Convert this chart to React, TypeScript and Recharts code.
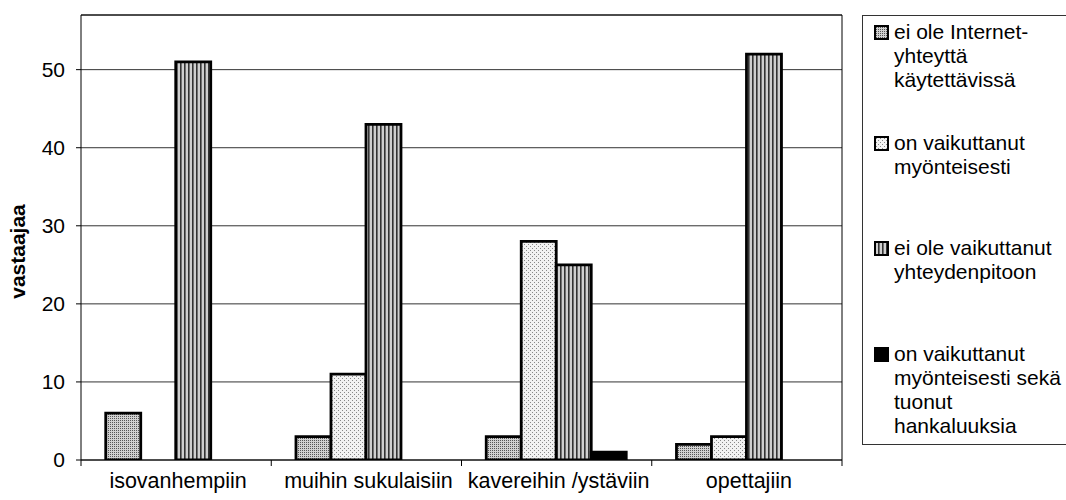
import React from 'react';
import { BarChart, Bar, XAxis, YAxis, CartesianGrid, ReferenceLine } from 'recharts';

const categories = ['isovanhempiin', 'muihin sukulaisiin', 'kavereihin /ystäviin', 'opettajiin'];
const eiYhteytta = [6, 3, 3, 2];
const myonteisesti = [0, 11, 28, 3];
const eiVaikuttanut = [51, 43, 25, 52];
const myonteisestiHankaluuksia = [0, 0, 1, 0];
const yTicks = [0, 10, 20, 30, 40, 50];

const seriesNames = [
  'ei ole Internet-\nyhteyttä\nkäytettävissä',
  'on vaikuttanut\nmyönteisesti',
  'ei ole vaikuttanut\nyhteydenpitoon',
  'on vaikuttanut\nmyönteisesti sekä\ntuonut\nhankaluuksia',
];
const seriesKeys = ['s1', 's2', 's3', 's4'];
const seriesFills = ['url(#pat1)', 'url(#pat2)', 'url(#pat3)', '#000'];

const data = categories.map((name, i) => ({
  name,
  s1: eiYhteytta[i],
  s2: myonteisesti[i],
  s3: eiVaikuttanut[i],
  s4: myonteisestiHankaluuksia[i],
}));

const FONT = '"Liberation Sans", Arial, sans-serif';

const Patterns = () => (
  <svg width={0} height={0} style={{ position: 'absolute' }}>
    <defs>
      <pattern id="pat1" width={2} height={2} patternUnits="userSpaceOnUse">
        <rect width={2} height={2} fill="#d0d0d0" />
        <rect width={1} height={1} fill="#555" />
      </pattern>
      <pattern id="pat2" width={4} height={4} patternUnits="userSpaceOnUse">
        <rect width={4} height={4} fill="#f2f2f2" />
        <rect width={1} height={1} fill="#888" />
        <rect x={2} y={2} width={1} height={1} fill="#888" />
      </pattern>
      <pattern id="pat3" width={4} height={4} patternUnits="userSpaceOnUse">
        <rect width={4} height={4} fill="#cfcfcf" />
        <rect width={1.6} height={4} fill="#333" />
      </pattern>
    </defs>
  </svg>
);

const XTick = (props: any) => {
  const { x, y, payload, index, width, visibleTicksCount } = props;
  const half = width / visibleTicksCount / 2;
  return (
    <g>
      <line x1={x - half} x2={x - half} y1={y - 8} y2={y - 2} stroke="#000" />
      {index === visibleTicksCount - 1 && (
        <line x1={x + half} x2={x + half} y1={y - 8} y2={y - 2} stroke="#000" />
      )}
      <text x={x + 2} y={y} dy={20} textAnchor="middle" fontSize={21.5} fontFamily={FONT} fill="#000">
        {payload.value}
      </text>
    </g>
  );
};

const legendTops = [4, 115, 220, 326];

const ChartLegend = () => (
  <div
    style={{
      position: 'absolute',
      left: 862,
      top: 15,
      width: 204,
      height: 430,
      borderLeft: '1px solid #333',
      borderTop: '1px solid #333',
      borderBottom: '1px solid #333',
      boxSizing: 'border-box',
      fontFamily: FONT,
      fontSize: 21,
      lineHeight: '24px',
      color: '#000',
    }}
  >
    {seriesNames.map((name, i) => (
      <div key={seriesKeys[i]} style={{ position: 'absolute', left: 0, top: legendTops[i], width: 204 }}>
        <svg width={15} height={15} style={{ position: 'absolute', left: 11, top: 5 }}>
          <rect x={1} y={1} width={13} height={13} fill={seriesFills[i]} stroke="#000" strokeWidth={2} />
        </svg>
        <div style={{ paddingLeft: 31, whiteSpace: 'pre-line' }}>{name}</div>
      </div>
    ))}
  </div>
);

const App: React.FC = () => {
  return (
    <div style={{ position: 'absolute', left: 0, top: 0, width: 1066, height: 500, background: '#fff' }}>
      <Patterns />
      <BarChart
        width={1066}
        height={500}
        data={data}
        margin={{ top: 15, right: 223, bottom: 0, left: 0 }}
        barCategoryGap="13%"
        barGap={0}
      >
        <CartesianGrid vertical={false} stroke="#333" strokeWidth={1} />
        <XAxis
          dataKey="name"
          height={40}
          tickLine={false}
          axisLine={{ stroke: '#000' }}
          tick={<XTick />}
          interval={0}
        />
        <YAxis
          width={81}
          domain={[0, 57]}
          ticks={yTicks}
          allowDataOverflow
          tickSize={5}
          tickMargin={11}
          axisLine={{ stroke: '#000' }}
          tickLine={{ stroke: '#000' }}
          tick={{ fontSize: 21, fontFamily: FONT, fill: '#000' }}
          label={{
            value: 'vastaajaa',
            angle: -90,
            position: 'insideLeft',
            offset: 18,
            dy: 14,
            style: { fontSize: 21, fontWeight: 'bold', fontFamily: FONT, fill: '#000', textAnchor: 'middle' },
          }}
        />
        <YAxis
          yAxisId="right"
          orientation="right"
          width={1}
          domain={[0, 57]}
          tick={false}
          tickLine={false}
          axisLine={{ stroke: '#000' }}
        />
        <ReferenceLine y={57} stroke="#000" />
        {seriesKeys.map((key, i) => (
          <Bar
            key={key}
            dataKey={key}
            name={seriesNames[i]}
            fill={seriesFills[i]}
            stroke="#000"
            strokeWidth={2.8}
            isAnimationActive={false}
          />
        ))}
      </BarChart>
      <ChartLegend />
    </div>
  );
};

export default App;
